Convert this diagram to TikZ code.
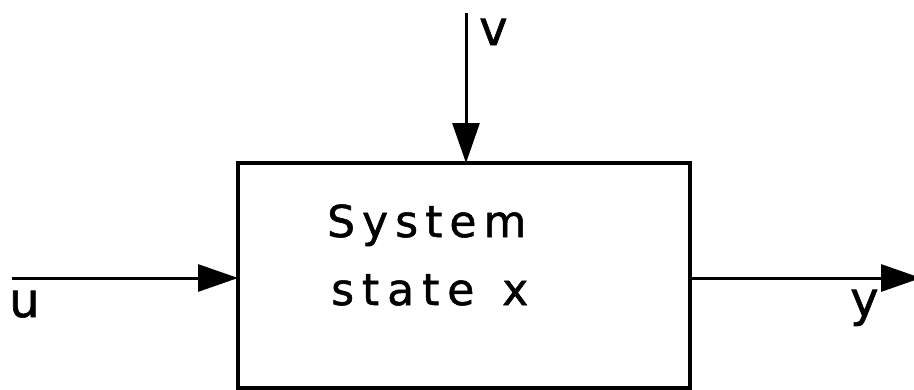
\documentclass[tikz,border=0pt]{standalone}
\usepackage{fontspec}
\setmainfont{DejaVu Sans}[FakeBold=1.2]
\newfontfamily\boxfont[LetterSpace=16,FakeBold=1.2]{DejaVu Sans}
\newfontfamily\boxfontb[LetterSpace=18,FakeBold=1.2]{DejaVu Sans}
\usetikzlibrary{arrows.meta}
\tikzset{
  sig/.style={line width=3pt, -{Triangle[length=40pt,width=27pt]}},
  sysbox/.style={line width=4pt},
  lbl/.style={inner sep=0pt, anchor=base west, font=\fontsize{48}{48}\selectfont},
  boxtext/.style={inner sep=0pt, anchor=base west, font=\boxfont\fontsize{44}{44}\selectfont}
}
\begin{document}
\begin{tikzpicture}[x=1pt,y=-1pt]
\useasboundingbox (0,0) rectangle (914,389);
\draw[sysbox] (238,163) rectangle (690,388);
\coordinate (uin) at (12,278);
\coordinate (uend) at (238,278);
\coordinate (vin) at (466,13);
\coordinate (vend) at (466,163);
\coordinate (ystart) at (690,278);
\coordinate (yend) at (921,278);
\draw[sig] (uin) -- (uend);
\draw[sig] (vin) -- (vend);
\draw[sig] (ystart) -- (yend);
\node[lbl] (u) at (9,317) {u};
\node[lbl] (v) at (479,45) {v};
\node[lbl] (y) at (850,316) {y};
\node[boxtext] (l1) at (327,237) {System};
\node[boxtext, font=\boxfontb\fontsize{44}{44}\selectfont] (l2) at (331,305) {state\hspace{6pt} x};
\end{tikzpicture}
\end{document}
